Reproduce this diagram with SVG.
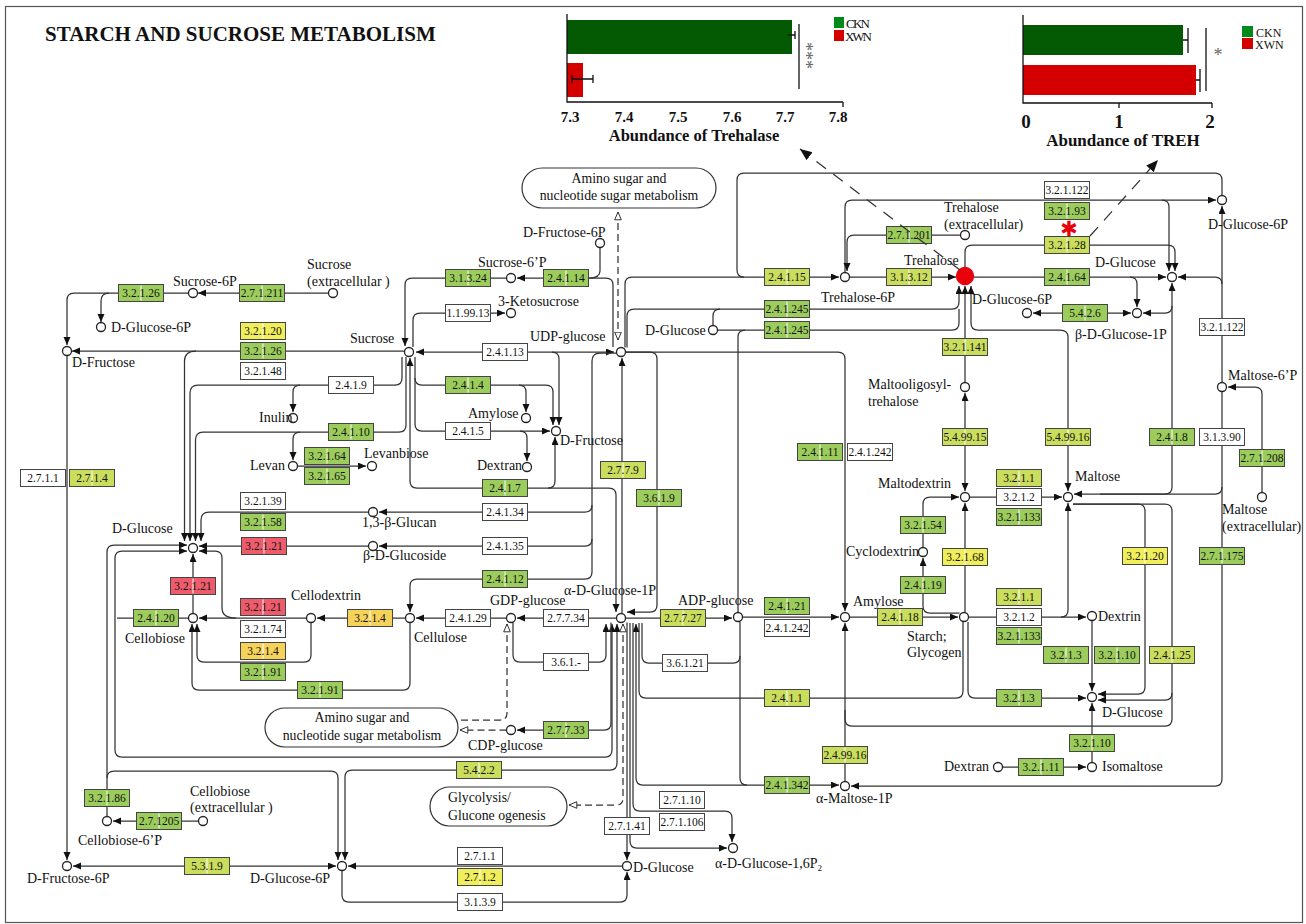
<svg xmlns="http://www.w3.org/2000/svg" width="1306" height="924" viewBox="0 0 1306 924">
<defs>
<style>
.c path{fill:none;stroke:#333;stroke-width:1.25}
.c .e1{marker-end:url(#a)}
.c .e2{marker-end:url(#a);marker-start:url(#a)}
.c .s1{marker-start:url(#a)}
.c .dl{stroke-dasharray:7 4}
.c .oe{marker-end:url(#o)}
.c .os{marker-start:url(#o)}
.e rect{stroke:#444;stroke-width:1}
.e path{stroke:#fff;stroke-width:1}
.e text{font-family:'Liberation Serif',serif;font-size:11.5px;text-anchor:middle;fill:#111}
.g rect{fill:#9ccc5c}
.yg rect{fill:#cadd5c}
.y rect{fill:#f0ee5a}
.o rect{fill:#f5d25a}
.r rect{fill:#ee5c6c}
.w rect{fill:#fff}
.n circle{fill:#fff;stroke:#222;stroke-width:1.3}
.n text{font-family:'Liberation Serif',serif;font-size:14px;fill:#111}
.m rect{fill:#fff;stroke:#333;stroke-width:1.2}
.m text{font-family:'Liberation Serif',serif;font-size:13.8px;fill:#111}
.ch text{font-family:'Liberation Serif',serif;font-weight:bold;fill:#111}
.ch path{fill:none;stroke:#111;stroke-width:1.3}
.ch .lg{font-size:13px;font-weight:normal}
.ch .lg2{font-size:12px;font-weight:normal}
.ch .st{font-weight:normal;fill:#666}
</style>
<marker id="a" markerWidth="9" markerHeight="8" refX="8" refY="3.5" orient="auto-start-reverse" markerUnits="userSpaceOnUse"><path d="M0,0L8,3.5L0,7z" fill="#111"/></marker>
<marker id="o" markerWidth="10" markerHeight="9" refX="8.5" refY="4" orient="auto-start-reverse" markerUnits="userSpaceOnUse"><path d="M0.7,0.7L8.5,4L0.7,7.3z" fill="#fff" stroke="#333" stroke-width="1"/></marker>
<marker id="d" markerWidth="13" markerHeight="11" refX="12" refY="5" orient="auto" markerUnits="userSpaceOnUse"><path d="M0,0L12,5L0,10z" fill="#111"/></marker>
</defs>
<rect x="0" y="0" width="1306" height="924" fill="#fff"/>
<rect x="5.5" y="6.5" width="1297" height="916" fill="#fff" stroke="#555" stroke-width="1.2"/>
<text x="45" y="41" font-family="'Liberation Serif',serif" font-weight="bold" font-size="21" fill="#111">STARCH AND SUCROSE METABOLISM</text>

<g id="chart-trehalase" class="ch">
<rect x="567" y="20" width="225" height="34" fill="#035a03"/>
<rect x="567" y="63" width="16" height="34" fill="#d40000"/>
<path d="M567,14V102H843M843,102v5"/>
<path d="M788,35H795M795,31V39M572,79H593M572,75V83M593,75V83"/>
<path d="M799,24V89" stroke="#333"/>
<text class="st" transform="translate(800,42) rotate(90)" font-size="18">***</text>
<g font-size="15" text-anchor="middle"><text x="570" y="122">7.3</text><text x="624" y="122">7.4</text><text x="678" y="122">7.5</text><text x="732" y="122">7.6</text><text x="785" y="122">7.7</text><text x="838" y="122">7.8</text></g>
<text x="694" y="141" font-size="16.5" text-anchor="middle">Abundance of Trehalase</text>
<rect x="834" y="17" width="10" height="11" fill="#008a1a"/>
<rect x="834" y="30" width="10" height="11" fill="#d40000"/>
<text class="lg" x="846" y="28" textLength="24">CKN</text>
<text class="lg" x="845" y="41" textLength="27">XWN</text>
</g>

<g id="chart-treh" class="ch">
<rect x="1023" y="25" width="160" height="30" fill="#035a03"/>
<rect x="1023" y="65" width="173" height="30" fill="#d40000"/>
<path d="M1023,15V103H1212M1119,103v5M1212,103v5"/>
<path d="M1183,40H1188M1188,28V53M1196,80H1200M1200,69V92"/>
<path d="M1206,28V91" stroke="#333"/>
<text class="st" x="1218" y="61" font-size="18" text-anchor="middle">*</text>
<g font-size="19" text-anchor="middle"><text x="1026" y="128">0</text><text x="1119" y="128">1</text><text x="1210" y="128">2</text></g>
<text x="1123" y="146" font-size="17" text-anchor="middle">Abundance of TREH</text>
<rect x="1242" y="26" width="11" height="11" fill="#008a1a"/>
<rect x="1242" y="38" width="11" height="11" fill="#d40000"/>
<text class="lg2" x="1256" y="36.5">CKN</text>
<text class="lg2" x="1255" y="49">XWN</text>
</g>

<g id="connectors" class="c">
<path class="e1" d="M328.5,293H198"/>
<path class="e1" d="M188.5,293H74Q67,293 67,300V345"/>
<path class="e1" d="M109,293Q101,293 101,301V322"/>
<path class="e1" d="M404.5,351H72"/>
<path class="e2" d="M416,352H614"/>
<path class="e1" d="M552,352Q559,352 559,359V425"/>
<path class="e1" d="M506.5,278H412Q405,278 405,285V346"/>
<path class="e1" d="M613,347V285Q613,278 606,278H517"/>
<path d="M589,278Q600,278 600,271V248"/>
<path class="e1" d="M413,347V320Q413,313 420,313H505"/>
<path class="e1" d="M402,357V378Q402,385 395,385H198Q190,385 190,393V541"/>
<path class="e1" d="M300,385Q293,385 293,392V412"/>
<path class="e1" d="M406,357V425Q406,432 399,432H203Q195.5,432 195.5,440V541"/>
<path class="e1" d="M300,432Q293,432 293,439V460"/>
<path class="e1" d="M297.5,466H366"/>
<path class="e1" d="M415,357V378Q415,385 422,385H546Q553,385 553,392V425"/>
<path class="e1" d="M519,385Q526,385 526,392V412"/>
<path class="e1" d="M415,378V424Q415,431 422,431H550"/>
<path class="e1" d="M520,431Q527,431 527,438V461"/>
<path class="e2" d="M410,358V481Q410,488 417,488H609Q616,488 616,495V612"/>
<path class="e1" d="M548,488Q555,488 555,481V437"/>
<path class="e1" d="M616.5,353H600Q592,353 592,361V572Q592,579 585,579H417Q410,579 410,586V612"/>
<path class="e1" d="M592,505Q592,512 585,512H379"/>
<path class="e1" d="M592,539Q592,546 585,546H379"/>
<path class="e1" d="M368.5,512H209Q201,512 201,520V541"/>
<path class="e1" d="M368.5,546H199"/>
<path class="e1" d="M196,351Q184.5,351 184.5,361V541"/>
<path class="e1" d="M193,613.5V554"/>
<path class="e1" d="M306.5,618H199"/>
<path class="e1" d="M236,618Q222,618 222,608V558Q222,551 215,551H199"/>
<path class="e1" d="M311,622.5V655Q311,662 304,662H204Q197,662 197,655V624"/>
<path class="e1" d="M410,622.5V683Q410,690 403,690H199Q192,690 192,683V624"/>
<path class="e1" d="M405.5,618H317"/>
<path class="e1" d="M506.5,618H416"/>
<path class="e1" d="M616.5,618H517"/>
<path d="M188.5,618H117"/>
<path class="e1 s1" d="M612,624V750Q612,757 605,757H122Q115,757 115,750V558Q115,551 122,551H187"/>
<path class="e1" d="M107,816.5V778Q107,771 114,771H331Q338,771 338,778V860"/>
<path class="e1" d="M107,778V552Q107,545 114,545H187"/>
<path class="e1" d="M198.5,821H113"/>
<path class="e1" d="M67,355.5V860"/>
<path class="e2" d="M73,866H336"/>
<path class="e1" d="M622.5,866H348"/>
<path class="e1" d="M342,870.5V895Q342,902 349,902H620Q627,902 627,895V872"/>
<path class="e2" d="M345,860V777Q345,770 352,770H610Q617,770 617,763V624"/>
<path class="e1" d="M513,622.5V655Q513,662 520,662H599Q606,662 606,655V624"/>
<path class="e1" d="M611,622.5V723Q611,730 604,730H517"/>
<path class="dl os" d="M507,624V713Q507,720 500,720H459"/>
<path class="dl oe" d="M506.5,730H460"/>
<path class="dl os oe" d="M623,624V798Q623,805 616,805H569"/>
<path class="dl os oe" d="M618,340V212"/>
<path class="e1" d="M627,622.5V860"/>
<path d="M642,623V656Q642,663 649,663H733Q740,663 740,656V622"/>
<path d="M639,623V691Q639,698 646,698H956Q963,698 963,691V621.5"/>
<path class="e1 s1" d="M636,624V778Q636,785 643,785H839"/>
<path d="M740,656V778Q740,785 747,785"/>
<path class="e1" d="M633,623V804Q633,811 640,811H725Q732,811 732,818V842"/>
<path class="e1" d="M630,623V841Q630,848 637,848H727"/>
<path class="e1" d="M626,352H650Q657,352 657,359V605Q657,612 650,612H627"/>
<path class="e1" d="M625.5,352H838Q845,352 845,359V611"/>
<path class="s1" d="M622,358V613"/>
<path class="e1" d="M626,618H732"/>
<path class="e1" d="M743,617H839"/>
<path class="e1" d="M850,617H958"/>
<path d="M738,612.5V337Q738,330 745,330"/>
<path class="e1" d="M845,781.5V623"/>
<path d="M1073,504H1165Q1172,504 1172,511V719Q1172,726 1165,726H852Q845,726 845,719V710"/>
<path class="e1" d="M1172,693Q1172,700 1165,700H1098"/>
<path class="e1" d="M1073,504H1138Q1145,504 1145,511V687Q1145,694 1138,694H1098"/>
<path class="e1" d="M1222,391.5V779Q1222,786 1215,786H851"/>
<path class="e1" d="M1222,487Q1222,494 1215,494H1074"/>
<path class="s1" d="M1172,283V487Q1172,494 1165,494H1100"/>
<path class="e1" d="M1172,306Q1172,313 1165,313H1143"/>
<path class="e2" d="M1033,313H1131"/>
<path class="e1" d="M973,277H1166"/>
<path class="e1" d="M1130,277Q1137,277 1137,284V307"/>
<path class="e1" d="M965,268V252Q965,245 972,245H1168Q1175,245 1175,252V271"/>
<path class="e1" d="M845,272.5V207Q845,200 852,200H1216"/>
<path class="e1" d="M1162,200Q1169,200 1169,207V271"/>
<path class="e1" d="M960.5,235H854Q847,235 847,242V271"/>
<path class="e1" d="M1222,195.5V180Q1222,173 1215,173H744Q737,173 737,180V270Q737,277 744,277H839"/>
<path d="M625,347.5V284Q625,277 632,277H744"/>
<path class="e1" d="M849.5,277H956"/>
<path class="e1" d="M627,347.5V316Q627,309 634,309H952Q959,309 959,302V286"/>
<path d="M717.5,330H952Q959,330 959,323V309"/>
<path d="M713,325.5V316Q713,309 720,309"/>
<path class="e1" d="M965,382.5V286"/>
<path class="e2" d="M971,286V323Q971,330 978,330H1060Q1068,330 1068,337V491"/>
<path class="e2" d="M965,393V491"/>
<path class="e1" d="M923,547.5V504Q923,497 930,497H959"/>
<path class="e1" d="M959.5,613H930Q923,613 923,606V558"/>
<path class="e1" d="M965,612.5V503"/>
<path class="e1" d="M969.5,497H1062"/>
<path class="e1" d="M968.5,617H1086"/>
<path class="e1" d="M1061,617Q1068,617 1068,610V503"/>
<path class="e1" d="M968,622V691Q968,698 975,698H1086"/>
<path class="e1" d="M1092,620.5V691"/>
<path class="e1" d="M1092,762.5V703"/>
<path class="e1" d="M1002.5,767H1086"/>
<path class="e1" d="M1262,492.5V394Q1262,387 1255,387H1228"/>
<path class="e1" d="M1222,382.5V206"/>
<path class="e1" d="M1222,284Q1222,277 1215,277H1178"/>
</g>

<g id="maps" class="m">
<g id="map-amino-top"><rect x="522" y="168" width="194" height="40" rx="20"/><text x="619" y="183" text-anchor="middle">Amino sugar and</text><text x="619" y="200" text-anchor="middle">nucleotide sugar metabolism</text></g>
<g id="map-amino-bottom"><rect x="265" y="708" width="193" height="39" rx="20"/><text x="362" y="722" text-anchor="middle">Amino sugar and</text><text x="362" y="740" text-anchor="middle">nucleotide sugar metabolism</text></g>
<g id="map-glycolysis"><rect x="430" y="787" width="137" height="39" rx="19.5"/><text x="448" y="802">Glycolysis/</text><text x="448" y="820">Glucone ogenesis</text></g>
</g>

<g id="enzymes">
<g id="e1" class="e g"><rect x="118.5" y="284.5" width="45" height="17"/><path d="M141,285.5v15"/><text x="141" y="297">3.2.1.26</text></g>
<g id="e2" class="e g"><rect x="239.5" y="284.5" width="45" height="17"/><path d="M262,285.5v15"/><text x="262" y="297">2.7.1.211</text></g>
<g id="e3" class="e g"><rect x="445.5" y="269.5" width="45" height="17"/><path d="M468,270.5v15"/><text x="468" y="282">3.1.3.24</text></g>
<g id="e4" class="e g"><rect x="543.5" y="269.5" width="45" height="17"/><path d="M566,270.5v15"/><text x="566" y="282">2.4.1.14</text></g>
<g id="e5" class="e y"><rect x="240.5" y="322.5" width="45" height="17"/><path d="M263,323.5v15"/><text x="263" y="335">3.2.1.20</text></g>
<g id="e6" class="e g"><rect x="240.5" y="342.5" width="45" height="17"/><path d="M263,343.5v15"/><text x="263" y="355">3.2.1.26</text></g>
<g id="e7" class="e w"><rect x="240.5" y="362.5" width="45" height="17"/><text x="263" y="375">3.2.1.48</text></g>
<g id="e8" class="e w"><rect x="445.5" y="304.5" width="45" height="17"/><text x="468" y="317">1.1.99.13</text></g>
<g id="e9" class="e w"><rect x="482.5" y="343.5" width="45" height="17"/><text x="505" y="356">2.4.1.13</text></g>
<g id="e10" class="e w"><rect x="328.5" y="376.5" width="45" height="17"/><text x="351" y="389">2.4.1.9</text></g>
<g id="e11" class="e g"><rect x="445.5" y="376.5" width="45" height="17"/><path d="M468,377.5v15"/><text x="468" y="389">2.4.1.4</text></g>
<g id="e12" class="e g"><rect x="328.5" y="423.5" width="45" height="17"/><path d="M351,424.5v15"/><text x="351" y="436">2.4.1.10</text></g>
<g id="e13" class="e w"><rect x="445.5" y="422.5" width="45" height="17"/><text x="468" y="435">2.4.1.5</text></g>
<g id="e14" class="e g"><rect x="304.5" y="447.5" width="45" height="17"/><path d="M327,448.5v15"/><text x="327" y="460">3.2.1.64</text></g>
<g id="e15" class="e g"><rect x="304.5" y="467.5" width="45" height="17"/><path d="M327,468.5v15"/><text x="327" y="480">3.2.1.65</text></g>
<g id="e16" class="e g"><rect x="482.5" y="479.5" width="45" height="17"/><path d="M505,480.5v15"/><text x="505" y="492">2.4.1.7</text></g>
<g id="e17" class="e w"><rect x="20.5" y="469.5" width="45" height="17"/><text x="43" y="482">2.7.1.1</text></g>
<g id="e18" class="e yg"><rect x="69.5" y="469.5" width="45" height="17"/><path d="M92,470.5v15"/><text x="92" y="482">2.7.1.4</text></g>
<g id="e19" class="e w"><rect x="240.5" y="492.5" width="45" height="17"/><text x="263" y="505">3.2.1.39</text></g>
<g id="e20" class="e g"><rect x="240.5" y="513.5" width="45" height="17"/><path d="M263,514.5v15"/><text x="263" y="526">3.2.1.58</text></g>
<g id="e21" class="e w"><rect x="482.5" y="503.5" width="45" height="17"/><text x="505" y="516">2.4.1.34</text></g>
<g id="e22" class="e r"><rect x="241.5" y="537.5" width="45" height="17"/><path d="M264,538.5v15"/><text x="264" y="550">3.2.1.21</text></g>
<g id="e23" class="e w"><rect x="482.5" y="537.5" width="45" height="17"/><text x="505" y="550">2.4.1.35</text></g>
<g id="e24" class="e g"><rect x="482.5" y="570.5" width="45" height="17"/><path d="M505,571.5v15"/><text x="505" y="583">2.4.1.12</text></g>
<g id="e25" class="e r"><rect x="170.5" y="577.5" width="45" height="17"/><path d="M193,578.5v15"/><text x="193" y="590">3.2.1.21</text></g>
<g id="e26" class="e r"><rect x="240.5" y="598.5" width="45" height="17"/><path d="M263,599.5v15"/><text x="263" y="611">3.2.1.21</text></g>
<g id="e27" class="e w"><rect x="240.5" y="620.5" width="45" height="17"/><text x="263" y="633">3.2.1.74</text></g>
<g id="e28" class="e g"><rect x="133.5" y="609.5" width="45" height="17"/><path d="M156,610.5v15"/><text x="156" y="622">2.4.1.20</text></g>
<g id="e29" class="e o"><rect x="347.5" y="609.5" width="45" height="17"/><path d="M370,610.5v15"/><text x="370" y="622">3.2.1.4</text></g>
<g id="e30" class="e w"><rect x="445.5" y="609.5" width="45" height="17"/><text x="468" y="622">2.4.1.29</text></g>
<g id="e31" class="e w"><rect x="543.5" y="609.5" width="45" height="17"/><text x="566" y="622">2.7.7.34</text></g>
<g id="e32" class="e o"><rect x="240.5" y="642.5" width="45" height="17"/><path d="M263,643.5v15"/><text x="263" y="655">3.2.1.4</text></g>
<g id="e33" class="e g"><rect x="240.5" y="663.5" width="45" height="17"/><path d="M263,664.5v15"/><text x="263" y="676">3.2.1.91</text></g>
<g id="e34" class="e g"><rect x="297.5" y="681.5" width="45" height="17"/><path d="M320,682.5v15"/><text x="320" y="694">3.2.1.91</text></g>
<g id="e35" class="e w"><rect x="543.5" y="653.5" width="45" height="17"/><text x="566" y="666">3.6.1.-</text></g>
<g id="e36" class="e g"><rect x="543.5" y="721.5" width="45" height="17"/><path d="M566,722.5v15"/><text x="566" y="734">2.7.7.33</text></g>
<g id="e37" class="e yg"><rect x="456.5" y="761.5" width="45" height="17"/><path d="M479,762.5v15"/><text x="479" y="774">5.4.2.2</text></g>
<g id="e38" class="e g"><rect x="84.5" y="789.5" width="45" height="17"/><path d="M107,790.5v15"/><text x="107" y="802">3.2.1.86</text></g>
<g id="e39" class="e g"><rect x="136.5" y="812.5" width="45" height="17"/><path d="M159,813.5v15"/><text x="159" y="825">2.7.1205</text></g>
<g id="e40" class="e yg"><rect x="184.5" y="857.5" width="45" height="17"/><path d="M207,858.5v15"/><text x="207" y="870">5.3.1.9</text></g>
<g id="e41" class="e w"><rect x="457.5" y="847.5" width="45" height="17"/><text x="480" y="860">2.7.1.1</text></g>
<g id="e42" class="e y"><rect x="457.5" y="868.5" width="45" height="17"/><path d="M480,869.5v15"/><text x="480" y="881">2.7.1.2</text></g>
<g id="e43" class="e w"><rect x="457.5" y="893.5" width="45" height="17"/><text x="480" y="906">3.1.3.9</text></g>
<g id="e44" class="e w"><rect x="604.5" y="817.5" width="45" height="17"/><text x="627" y="830">2.7.1.41</text></g>
<g id="e45" class="e yg"><rect x="600.5" y="461.5" width="45" height="17"/><path d="M623,462.5v15"/><text x="623" y="474">2.7.7.9</text></g>
<g id="e46" class="e g"><rect x="636.5" y="489.5" width="45" height="17"/><path d="M659,490.5v15"/><text x="659" y="502">3.6.1.9</text></g>
<g id="e47" class="e yg"><rect x="660.5" y="609.5" width="45" height="17"/><path d="M683,610.5v15"/><text x="683" y="622">2.7.7.27</text></g>
<g id="e48" class="e w"><rect x="662.5" y="654.5" width="45" height="17"/><text x="685" y="667">3.6.1.21</text></g>
<g id="e49" class="e w"><rect x="659.5" y="791.5" width="45" height="17"/><text x="682" y="804">2.7.1.10</text></g>
<g id="e50" class="e w"><rect x="659.5" y="813.5" width="45" height="17"/><text x="682" y="826">2.7.1.106</text></g>
<g id="e51" class="e yg"><rect x="764.5" y="268.5" width="45" height="17"/><path d="M787,269.5v15"/><text x="787" y="281">2.4.1.15</text></g>
<g id="e52" class="e g"><rect x="764.5" y="300.5" width="45" height="17"/><path d="M787,301.5v15"/><text x="787" y="313">2.4.1.245</text></g>
<g id="e53" class="e g"><rect x="764.5" y="321.5" width="45" height="17"/><path d="M787,322.5v15"/><text x="787" y="334">2.4.1.245</text></g>
<g id="e54" class="e g"><rect x="797.5" y="443.5" width="45" height="17"/><path d="M820,444.5v15"/><text x="820" y="456">2.4.1.11</text></g>
<g id="e55" class="e w"><rect x="847.5" y="443.5" width="45" height="17"/><text x="870" y="456">2.4.1.242</text></g>
<g id="e56" class="e g"><rect x="764.5" y="597.5" width="45" height="17"/><path d="M787,598.5v15"/><text x="787" y="610">2.4.1.21</text></g>
<g id="e57" class="e w"><rect x="764.5" y="619.5" width="45" height="17"/><text x="787" y="632">2.4.1.242</text></g>
<g id="e58" class="e yg"><rect x="764.5" y="689.5" width="45" height="17"/><path d="M787,690.5v15"/><text x="787" y="702">2.4.1.1</text></g>
<g id="e59" class="e g"><rect x="764.5" y="776.5" width="45" height="17"/><path d="M787,777.5v15"/><text x="787" y="789">2.4.1.342</text></g>
<g id="e60" class="e yg"><rect x="822.5" y="746.5" width="45" height="17"/><path d="M845,747.5v15"/><text x="845" y="759">2.4.99.16</text></g>
<g id="e61" class="e yg"><rect x="877.5" y="608.5" width="45" height="17"/><path d="M900,609.5v15"/><text x="900" y="621">2.4.1.18</text></g>
<g id="e62" class="e g"><rect x="886.5" y="226.5" width="45" height="17"/><path d="M909,227.5v15"/><text x="909" y="239">2.7.1.201</text></g>
<g id="e63" class="e yg"><rect x="886.5" y="268.5" width="45" height="17"/><path d="M909,269.5v15"/><text x="909" y="281">3.1.3.12</text></g>
<g id="e64" class="e w"><rect x="1044.5" y="181.5" width="45" height="17"/><text x="1067" y="194">3.2.1.122</text></g>
<g id="e65" class="e g"><rect x="1044.5" y="202.5" width="45" height="17"/><path d="M1067,203.5v15"/><text x="1067" y="215">3.2.1.93</text></g>
<g id="e66" class="e yg"><rect x="1044.5" y="236.5" width="45" height="17"/><path d="M1067,237.5v15"/><text x="1067" y="249">3.2.1.28</text></g>
<g id="e67" class="e g"><rect x="1044.5" y="268.5" width="45" height="17"/><path d="M1067,269.5v15"/><text x="1067" y="281">2.4.1.64</text></g>
<g id="e68" class="e g"><rect x="1062.5" y="304.5" width="45" height="17"/><path d="M1085,305.5v15"/><text x="1085" y="317">5.4.2.6</text></g>
<g id="e69" class="e yg"><rect x="942.5" y="338.5" width="45" height="17"/><path d="M965,339.5v15"/><text x="965" y="351">3.2.1.141</text></g>
<g id="e70" class="e yg"><rect x="942.5" y="428.5" width="45" height="17"/><path d="M965,429.5v15"/><text x="965" y="441">5.4.99.15</text></g>
<g id="e71" class="e yg"><rect x="1045.5" y="428.5" width="45" height="17"/><path d="M1068,429.5v15"/><text x="1068" y="441">5.4.99.16</text></g>
<g id="e72" class="e g"><rect x="1149.5" y="428.5" width="45" height="17"/><path d="M1172,429.5v15"/><text x="1172" y="441">2.4.1.8</text></g>
<g id="e73" class="e w"><rect x="1199.5" y="318.5" width="45" height="17"/><text x="1222" y="331">3.2.1.122</text></g>
<g id="e74" class="e w"><rect x="1199.5" y="428.5" width="45" height="17"/><text x="1222" y="441">3.1.3.90</text></g>
<g id="e75" class="e g"><rect x="1239.5" y="449.5" width="45" height="17"/><path d="M1262,450.5v15"/><text x="1262" y="462">2.7.1.208</text></g>
<g id="e76" class="e yg"><rect x="996.5" y="469.5" width="45" height="17"/><path d="M1019,470.5v15"/><text x="1019" y="482">3.2.1.1</text></g>
<g id="e77" class="e w"><rect x="996.5" y="488.5" width="45" height="17"/><text x="1019" y="501">3.2.1.2</text></g>
<g id="e78" class="e g"><rect x="996.5" y="508.5" width="45" height="17"/><path d="M1019,509.5v15"/><text x="1019" y="521">3.2.1.133</text></g>
<g id="e79" class="e g"><rect x="900.5" y="516.5" width="45" height="17"/><path d="M923,517.5v15"/><text x="923" y="529">3.2.1.54</text></g>
<g id="e80" class="e y"><rect x="942.5" y="548.5" width="45" height="17"/><path d="M965,549.5v15"/><text x="965" y="561">3.2.1.68</text></g>
<g id="e81" class="e g"><rect x="900.5" y="576.5" width="45" height="17"/><path d="M923,577.5v15"/><text x="923" y="589">2.4.1.19</text></g>
<g id="e82" class="e y"><rect x="1122.5" y="547.5" width="45" height="17"/><path d="M1145,548.5v15"/><text x="1145" y="560">3.2.1.20</text></g>
<g id="e83" class="e g"><rect x="1199.5" y="547.5" width="45" height="17"/><path d="M1222,548.5v15"/><text x="1222" y="560">2.7.1.175</text></g>
<g id="e84" class="e yg"><rect x="996.5" y="588.5" width="45" height="17"/><path d="M1019,589.5v15"/><text x="1019" y="601">3.2.1.1</text></g>
<g id="e85" class="e w"><rect x="996.5" y="608.5" width="45" height="17"/><text x="1019" y="621">3.2.1.2</text></g>
<g id="e86" class="e g"><rect x="996.5" y="627.5" width="45" height="17"/><path d="M1019,628.5v15"/><text x="1019" y="640">3.2.1.133</text></g>
<g id="e87" class="e g"><rect x="1043.5" y="646.5" width="45" height="17"/><path d="M1066,647.5v15"/><text x="1066" y="659">3.2.1.3</text></g>
<g id="e88" class="e g"><rect x="1094.5" y="646.5" width="45" height="17"/><path d="M1117,647.5v15"/><text x="1117" y="659">3.2.1.10</text></g>
<g id="e89" class="e yg"><rect x="1149.5" y="646.5" width="45" height="17"/><path d="M1172,647.5v15"/><text x="1172" y="659">2.4.1.25</text></g>
<g id="e90" class="e g"><rect x="996.5" y="689.5" width="45" height="17"/><path d="M1019,690.5v15"/><text x="1019" y="702">3.2.1.3</text></g>
<g id="e91" class="e g"><rect x="1069.5" y="734.5" width="45" height="17"/><path d="M1092,735.5v15"/><text x="1092" y="747">3.2.1.10</text></g>
<g id="e92" class="e g"><rect x="1018.5" y="758.5" width="45" height="17"/><path d="M1041,759.5v15"/><text x="1041" y="771">3.2.1.11</text></g>
</g>

<g id="compounds" class="n">
<g id="c-sucrose-6p"><circle cx="193" cy="293" r="4.5"/><text x="173" y="286">Sucrose-6P</text></g>
<g id="c-sucrose-ext"><circle cx="333" cy="293" r="4.5"/><text x="307" y="269">Sucrose</text><text x="307" y="286">(extracellular )</text></g>
<g id="c-glc6p-a"><circle cx="101" cy="327" r="4.5"/><text x="111" y="332">D-Glucose-6P</text></g>
<g id="c-fru-a"><circle cx="67" cy="351" r="4.5"/><text x="72" y="367">D-Fructose</text></g>
<g id="c-sucrose"><circle cx="409" cy="352" r="4.5"/><text x="350" y="343">Sucrose</text></g>
<g id="c-ketosucrose"><circle cx="511" cy="313" r="4.5"/><text x="498" y="306">3-Ketosucrose</text></g>
<g id="c-sucrose-6p2"><circle cx="511" cy="278" r="4.5"/><text x="478" y="267">Sucrose-6’P</text></g>
<g id="c-fru6p-top"><circle cx="600" cy="243" r="4.5"/><text x="523" y="237">D-Fructose-6P</text></g>
<g id="c-udpglc"><circle cx="621" cy="352" r="4.5"/><text x="530" y="341">UDP-glucose</text></g>
<g id="c-inulin"><circle cx="293" cy="418" r="4.5"/><text x="259" y="422">Inulin</text></g>
<g id="c-amylose-a"><circle cx="526" cy="418" r="4.5"/><text x="468" y="418">Amylose</text></g>
<g id="c-fru-b"><circle cx="556" cy="431" r="4.5"/><text x="560" y="445">D-Fructose</text></g>
<g id="c-levan"><circle cx="293" cy="466" r="4.5"/><text x="250" y="470">Levan</text></g>
<g id="c-levanbiose"><circle cx="372" cy="466" r="4.5"/><text x="364" y="458">Levanbiose</text></g>
<g id="c-dextran-a"><circle cx="527" cy="467" r="4.5"/><text x="477" y="470">Dextran</text></g>
<g id="c-glucan"><circle cx="373" cy="512" r="4.5"/><text x="362" y="527">1,3-β-Glucan</text></g>
<g id="c-glucoside"><circle cx="373" cy="546" r="4.5"/><text x="363" y="560">β-D-Glucoside</text></g>
<g id="c-glc-a"><circle cx="193" cy="548" r="4.5"/><text x="112" y="533">D-Glucose</text></g>
<g id="c-cellobiose"><circle cx="193" cy="618" r="4.5"/><text x="125" y="643">Cellobiose</text></g>
<g id="c-cellodextrin"><circle cx="311" cy="618" r="4.5"/><text x="291" y="600">Cellodextrin</text></g>
<g id="c-cellulose"><circle cx="410" cy="618" r="4.5"/><text x="414" y="642">Cellulose</text></g>
<g id="c-gdpglc"><circle cx="511" cy="618" r="4.5"/><text x="490" y="605">GDP-glucose</text></g>
<g id="c-glc1p"><circle cx="621" cy="618" r="4.5"/><text x="564" y="595">α-D-Glucose-1P</text></g>
<g id="c-cdpglc"><circle cx="511" cy="730" r="4.5"/><text x="468" y="750">CDP-glucose</text></g>
<g id="c-cellobiose6p"><circle cx="107" cy="821" r="4.5"/><text x="78" y="845">Cellobiose-6’P</text></g>
<g id="c-cellobiose-ext"><circle cx="203" cy="821" r="4.5"/><text x="190" y="796">Cellobiose</text><text x="190" y="812">(extracellular )</text></g>
<g id="c-fru6p"><circle cx="67" cy="866" r="4.5"/><text x="27" y="883">D-Fructose-6P</text></g>
<g id="c-glc6p-b"><circle cx="342" cy="866" r="4.5"/><text x="250" y="883">D-Glucose-6P</text></g>
<g id="c-glc-b"><circle cx="627" cy="866" r="4.5"/><text x="633" y="872">D-Glucose</text></g>
<g id="c-glc16p"><circle cx="733" cy="848" r="4.5"/><text x="715" y="868">α-D-Glucose-1,6P<tspan font-size="9" dy="3">2</tspan></text></g>
<g id="c-adpglc"><circle cx="738" cy="617" r="4.5"/><text x="678" y="605">ADP-glucose</text></g>
<g id="c-amylose-b"><circle cx="845" cy="617" r="4.5"/><text x="853" y="606">Amylose</text></g>
<g id="c-starch"><circle cx="964" cy="617" r="4.5"/><text x="907" y="641">Starch;</text><text x="907" y="657">Glycogen</text></g>
<g id="c-maltose1p"><circle cx="845" cy="786" r="4.5"/><text x="816" y="803">α-Maltose-1P</text></g>
<g id="c-glc-c"><circle cx="713" cy="330" r="4.5"/><text x="645" y="335">D-Glucose</text></g>
<g id="c-tre6p"><circle cx="845" cy="277" r="4.5"/><text x="821" y="302">Trehalose-6P</text></g>
<g id="c-tre-ext"><circle cx="965" cy="235" r="4.5"/><text x="944" y="212">Trehalose</text><text x="944" y="229">(extracellular)</text></g>
<g id="c-glc6p-c"><circle cx="1222" cy="200" r="4.5"/><text x="1208" y="229">D-Glucose-6P</text></g>
<g id="c-glc-d"><circle cx="1172" cy="277" r="4.5"/><text x="1095" y="267">D-Glucose</text></g>
<g id="c-glc6p-d"><circle cx="1027" cy="313" r="4.5"/><text x="972" y="304">D-Glucose-6P</text></g>
<g id="c-bglc1p"><circle cx="1137" cy="313" r="4.5"/><text x="1075" y="339">β-D-Glucose-1P</text></g>
<g id="c-maltooligo"><circle cx="965" cy="387" r="4.5"/><text x="868" y="389">Maltooligosyl-</text><text x="868" y="406">trehalose</text></g>
<g id="c-maltose6p"><circle cx="1222" cy="387" r="4.5"/><text x="1228" y="380">Maltose-6’P</text></g>
<g id="c-maltodextrin"><circle cx="965" cy="497" r="4.5"/><text x="878" y="488">Maltodextrin</text></g>
<g id="c-maltose"><circle cx="1068" cy="497" r="4.5"/><text x="1075" y="481">Maltose</text></g>
<g id="c-maltose-ext"><circle cx="1262" cy="497" r="4.5"/><text x="1222" y="514">Maltose</text><text x="1222" y="531">(extracellular)</text></g>
<g id="c-cyclodextrin"><circle cx="923" cy="552" r="4.5"/><text x="846" y="556">Cyclodextrin</text></g>
<g id="c-dextrin"><circle cx="1092" cy="616" r="4.5"/><text x="1098" y="621">Dextrin</text></g>
<g id="c-glc-e"><circle cx="1092" cy="697" r="4.5"/><text x="1102" y="717">D-Glucose</text></g>
<g id="c-dextran-b"><circle cx="998" cy="767" r="4.5"/><text x="944" y="771">Dextran</text></g>
<g id="c-isomaltose"><circle cx="1092" cy="767" r="4.5"/><text x="1102" y="771">Isomaltose</text></g>
<g id="c-trehalose"><circle cx="965" cy="276" r="8.5" style="fill:#e8000b;stroke:#e8000b"/><text x="904" y="265">Trehalose</text></g>
</g>

<g id="chart-links" class="c">
<path d="M960,270L800,149" stroke-dasharray="12 9" style="marker-end:url(#d)"/>
<path d="M1090,236L1158,160" stroke-dasharray="12 9" style="marker-end:url(#d)"/>
</g>
<text x="1069" y="236" font-family="'DejaVu Sans',sans-serif" font-size="21" fill="#e8000b" text-anchor="middle">✱</text>
</svg>
